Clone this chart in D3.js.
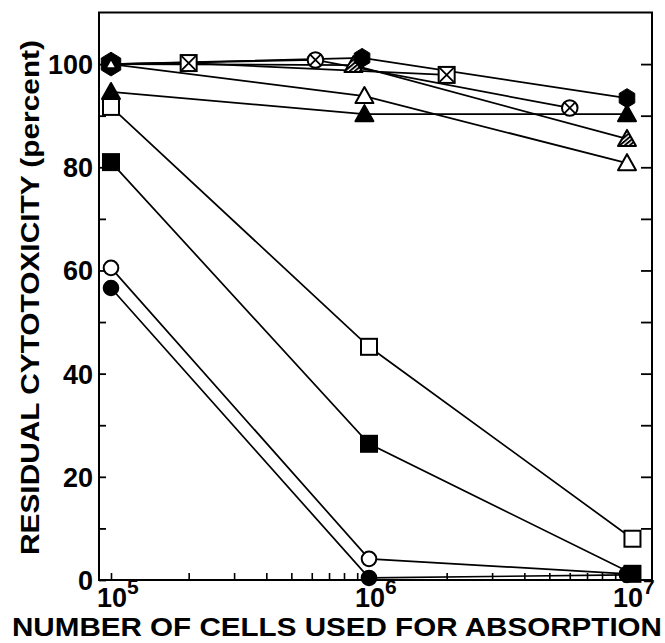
<!DOCTYPE html>
<html>
<head>
<meta charset="utf-8">
<script src="https://cdn.jsdelivr.net/npm/d3@7"></script>
<style>
  html, body { margin: 0; padding: 0; background: #fff; }
  svg { display: block; }
  text { font-family: "Liberation Sans", Arial, Helvetica, sans-serif; fill: #000; }
</style>
</head>
<body>
<svg id="chart" width="665" height="643"></svg>
<script>
// ---- data (cells used for absorption, residual cytotoxicity %) ----
const xDomain = [1e5, 1e7];
const yDomain = [0, 110];
const yTickValues = [0, 20, 40, 60, 80, 100];
const xTickExponents = [5, 6, 7];

const hexFilled    = [[1e5, 100.0], [9.4e5, 101.2], [1e7, 93.4]];
const triOpen      = [[1e5, 100.0], [9.6e5, 93.8],  [1e7, 80.8]];
const triFilled    = [[1e5, 94.6],  [9.6e5, 90.3],  [1e7, 90.3]];
const triHatched   = [[1e5, 100.0], [8.7e5, 99.8],  [1e7, 85.5]];
const circleCross  = [[1e5, 100.0], [6.2e5, 100.8], [6e6, 91.5]];
const squareCross  = [[1e5, 100.0], [2e5, 100.2],   [2e6, 97.9]];
const squareOpen   = [[1e5, 91.7],  [1e6, 45.2],    [1.05e7, 8.0]];
const squareFilled = [[1e5, 81.0],  [1e6, 26.4],    [1.05e7, 1.2]];
const circleOpen   = [[1e5, 60.5],  [1e6, 4.1],     [1e7, 1.2]];
const circleFilled = [[1e5, 56.6],  [1e6, 0.4],     [1e7, 1.0]];

(function () {
// ---- layout ----
const svg = d3.select("#chart");
const mLeft = 99, mRight = 652, mTop = 12.5, mBottom = 580;
const x = d3.scaleLog().domain(xDomain).range([111, 627]);
const y = d3.scaleLinear().domain(yDomain).range([mBottom, mTop]);

const defs = svg.append("defs");
const pat = defs.append("pattern").attr("id", "hatch").attr("patternUnits", "userSpaceOnUse")
  .attr("width", 3.2).attr("height", 3.2).attr("patternTransform", "rotate(-40)");
pat.append("rect").attr("width", 3.2).attr("height", 3.2).attr("fill", "#fff");
pat.append("rect").attr("width", 3.2).attr("height", 1.9).attr("fill", "#000");

// frame
svg.append("rect").attr("x", mLeft).attr("y", mTop).attr("width", mRight - mLeft).attr("height", mBottom - mTop)
  .attr("fill", "none").attr("stroke", "#000").attr("stroke-width", 2);

// y axis (left) ticks inward
const yAxis = d3.axisLeft(y).tickValues(d3.range(0, 101, 10)).tickSize(-7).tickFormat("");
svg.append("g").attr("transform", `translate(${mLeft},0)`).call(yAxis)
  .call(g => g.select(".domain").remove())
  .selectAll("line").attr("stroke-width", 1.8);
// y labels
svg.append("g").selectAll("text").data(yTickValues).join("text")
  .attr("x", mLeft - 6).attr("y", d => y(d) + 10).attr("text-anchor", "end")
  .attr("font-size", 27).attr("font-weight", "bold").text(d => d);

// right ticks inward
const yAxisR = d3.axisRight(y).tickValues(d3.range(10, 101, 10)).tickSize(-11).tickFormat("");
svg.append("g").attr("transform", `translate(${mRight},0)`).call(yAxisR)
  .call(g => g.select(".domain").remove())
  .selectAll("line").attr("stroke-width", 1.8);

// x axis ticks inward
const minorX = [];
for (let e = 5; e < 7; e++) for (let m = 1; m <= 9; m++) minorX.push(m * Math.pow(10, e));
const xAxis = d3.axisBottom(x).tickValues(minorX).tickSize(-7).tickFormat("");
svg.append("g").attr("transform", `translate(0,${mBottom})`).call(xAxis)
  .call(g => g.select(".domain").remove())
  .selectAll("line").attr("stroke-width", 1.6);

// x labels 10^n
const xl = svg.append("g").selectAll("text").data(xTickExponents).join("text")
  .attr("x", d => x(Math.pow(10, d)) - 14).attr("y", 607)
  .attr("font-size", 27).attr("font-weight", "bold");
xl.append("tspan").text("10");
xl.append("tspan").attr("dy", -13).attr("font-size", 21).text(d => d);

// axis titles
svg.append("text").attr("x", 12).attr("y", 636).attr("font-size", 25).attr("font-weight", "bold")
  .attr("textLength", 650).attr("lengthAdjust", "spacingAndGlyphs")
  .text("NUMBER OF CELLS USED FOR ABSORPTION");
svg.append("text").attr("transform", "translate(39,555) rotate(-90)").attr("font-size", 26)
  .attr("font-weight", "bold")
  .attr("textLength", 515).attr("lengthAdjust", "spacingAndGlyphs")
  .text("RESIDUAL CYTOTOXICITY (percent)");

// ---- lines ----
const line = d3.line().x(d => x(d[0])).y(d => y(d[1]));
const allSeries = [hexFilled, triOpen, triFilled, triHatched, circleCross, squareCross,
                   squareOpen, squareFilled, circleOpen, circleFilled];
svg.append("g").selectAll("path").data(allSeries).join("path")
  .attr("d", line).attr("fill", "none").attr("stroke", "#000").attr("stroke-width", 1.7);

// ---- markers ----
const mk = svg.append("g");
const SW = 2;
function tri(g, data, fill, s = 1) {
  g.selectAll(null).data(data).join("path")
    .attr("d", d => { const cx = x(d[0]), cy = y(d[1]);
      return `M${cx},${cy - 9 * s}L${cx + 9 * s},${cy + 7 * s}L${cx - 9 * s},${cy + 7 * s}Z`; })
    .attr("fill", fill).attr("stroke", "#000").attr("stroke-width", SW).attr("stroke-linejoin", "round");
}
function sq(g, data, fill) {
  g.selectAll(null).data(data).join("rect")
    .attr("x", d => x(d[0]) - 8).attr("y", d => y(d[1]) - 8)
    .attr("width", 16).attr("height", 16)
    .attr("fill", fill).attr("stroke", "#000").attr("stroke-width", SW);
}
function circ(g, data, fill) {
  g.selectAll(null).data(data).join("circle")
    .attr("cx", d => x(d[0])).attr("cy", d => y(d[1])).attr("r", 7.3)
    .attr("fill", fill).attr("stroke", "#000").attr("stroke-width", SW);
}
function hex(g, data, s = 1) {
  g.selectAll(null).data(data).join("path")
    .attr("d", d => { const cx = x(d[0]), cy = y(d[1]);
      const pts = d3.range(6).map(i => { const a = Math.PI / 3 * i - Math.PI / 2;
        return [cx + 9 * s * Math.cos(a), cy + 9.5 * s * Math.sin(a)]; });
      return "M" + pts.join("L") + "Z"; })
    .attr("fill", "#000").attr("stroke", "#000").attr("stroke-width", 1);
}
function sqCross(g, data) {
  sq(g, data, "#fff");
  g.selectAll(null).data(data).join("path")
    .attr("d", d => { const cx = x(d[0]), cy = y(d[1]), r = 7;
      return `M${cx - r},${cy - r}L${cx + r},${cy + r}M${cx + r},${cy - r}L${cx - r},${cy + r}`; })
    .attr("stroke", "#000").attr("stroke-width", 1.8);
}
function circCross(g, data) {
  g.selectAll(null).data(data).join("circle")
    .attr("cx", d => x(d[0])).attr("cy", d => y(d[1])).attr("r", 7.8)
    .attr("fill", "#fff").attr("stroke", "#000").attr("stroke-width", SW);
  g.selectAll(null).data(data).join("path")
    .attr("d", d => { const cx = x(d[0]), cy = y(d[1]), r = 5.5;
      return `M${cx - r},${cy - r}L${cx + r},${cy + r}M${cx + r},${cy - r}L${cx - r},${cy + r}`; })
    .attr("stroke", "#000").attr("stroke-width", 1.8);
}

circ(mk, circleOpen, "#fff");
circ(mk, circleFilled, "#000");
sq(mk, squareOpen, "#fff");
sq(mk, squareFilled, "#000");
tri(mk, triFilled, "#000");
tri(mk, triHatched.slice(1), "url(#hatch)");
circCross(mk, circleCross.slice(1));
sqCross(mk, squareCross.slice(1));
hex(mk, hexFilled.slice(0, 1), 1.25);
hex(mk, hexFilled.slice(1));
tri(mk, triOpen.slice(0, 1), "#fff", 0.6);
tri(mk, triOpen.slice(1), "#fff");
})();
</script>
</body>
</html>
